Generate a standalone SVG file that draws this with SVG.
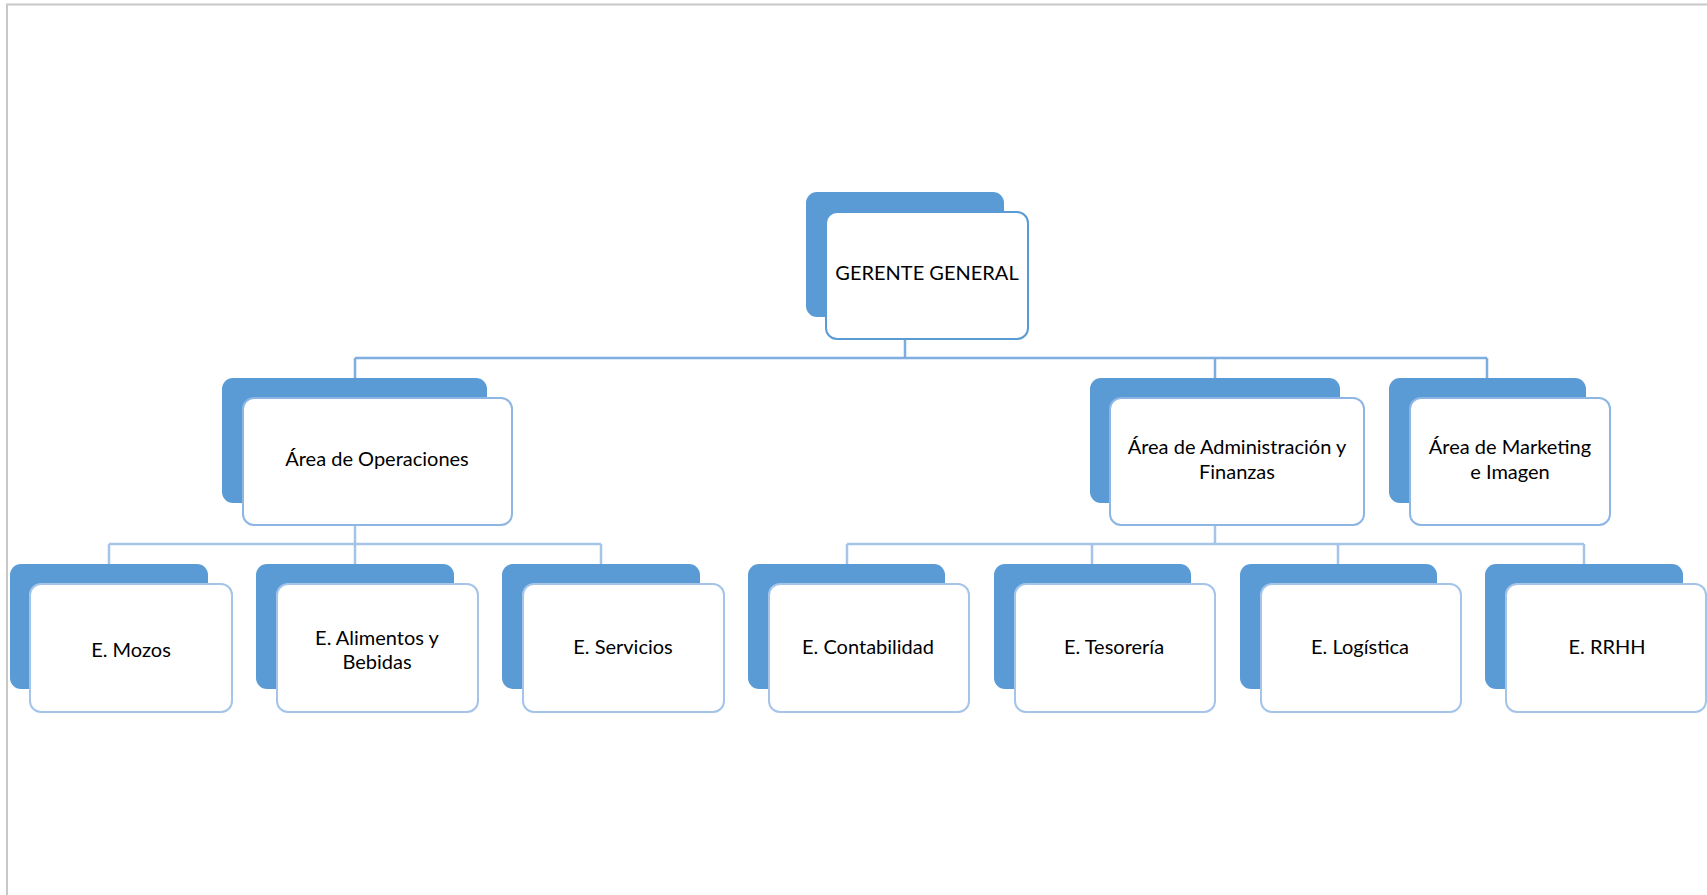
<svg xmlns="http://www.w3.org/2000/svg" width="1707" height="895" viewBox="0 0 1707 895">
<style>
.back{fill:#5b9bd5;}
.f1{fill:#fff;stroke:#5b9bd5;stroke-width:2;}
.f2{fill:#fff;stroke:#8db6e4;stroke-width:2;}
.f3{fill:#fff;stroke:#a4c4e9;stroke-width:2;}
.t{font-family:Lato,"Liberation Sans",Arial,sans-serif;font-size:20px;fill:#000;text-anchor:middle;}
.c1{fill:none;stroke:#7eaddf;stroke-width:2.5;}
.c2{fill:none;stroke:#a4c4e9;stroke-width:2.5;}
.frame{fill:none;stroke:#c8c8c8;stroke-width:2;}
</style>
<rect width="1707" height="895" fill="#fff"/>
<path class="frame" d="M7,895 V4.5 H1707"/>
<g id="connectors">
<path class="c1" d="M905,339 V358 M355,358 H1487 M355,358 V378 M1215,358 V378 M1487,358 V378"/>
<path class="c2" d="M355,525 V544 M109,544 H601 M109,544 V564 M355,544 V564 M601,544 V564"/>
<path class="c2" d="M1215,525 V544 M847,544 H1584 M847,544 V564 M1092,544 V564 M1338,544 V564 M1584,544 V564"/>
</g>
<g id="gerente">
<rect class="back" x="806" y="192" width="198" height="125" rx="11"/>
<rect class="f1" x="826" y="212" width="202" height="127" rx="11"/>
<text class="t" x="927" y="280">GERENTE GENERAL</text>
</g>
<g id="operaciones">
<rect class="back" x="222" y="378" width="265" height="125" rx="11"/>
<rect class="f2" x="243" y="398" width="269" height="127" rx="11"/>
<text class="t" x="377" y="466">Área de Operaciones</text>
</g>
<g id="administracion">
<rect class="back" x="1090" y="378" width="250" height="125" rx="11"/>
<rect class="f2" x="1110" y="398" width="254" height="127" rx="11"/>
<text class="t" x="1237" y="454">Área de Administración y</text>
<text class="t" x="1237" y="479">Finanzas</text>
</g>
<g id="marketing">
<rect class="back" x="1389" y="378" width="197" height="125" rx="11"/>
<rect class="f2" x="1410" y="398" width="200" height="127" rx="11"/>
<text class="t" x="1510" y="454">Área de Marketing</text>
<text class="t" x="1510" y="479">e Imagen</text>
</g>
<g id="mozos">
<rect class="back" x="10" y="564" width="198" height="125" rx="11"/>
<rect class="f3" x="30" y="584" width="202" height="128" rx="11"/>
<text class="t" x="131" y="657">E. Mozos</text>
</g>
<g id="alimentos">
<rect class="back" x="256" y="564" width="198" height="125" rx="11"/>
<rect class="f3" x="277" y="584" width="201" height="128" rx="11"/>
<text class="t" x="377" y="645">E. Alimentos y</text>
<text class="t" x="377" y="669">Bebidas</text>
</g>
<g id="servicios">
<rect class="back" x="502" y="564" width="198" height="125" rx="11"/>
<rect class="f3" x="523" y="584" width="201" height="128" rx="11"/>
<text class="t" x="623" y="654">E. Servicios</text>
</g>
<g id="contabilidad">
<rect class="back" x="748" y="564" width="197" height="125" rx="11"/>
<rect class="f3" x="769" y="584" width="200" height="128" rx="11"/>
<text class="t" x="868" y="654">E. Contabilidad</text>
</g>
<g id="tesoreria">
<rect class="back" x="994" y="564" width="197" height="125" rx="11"/>
<rect class="f3" x="1015" y="584" width="200" height="128" rx="11"/>
<text class="t" x="1114" y="654">E. Tesorería</text>
</g>
<g id="logistica">
<rect class="back" x="1240" y="564" width="197" height="125" rx="11"/>
<rect class="f3" x="1261" y="584" width="200" height="128" rx="11"/>
<text class="t" x="1360" y="654">E. Logística</text>
</g>
<g id="rrhh">
<rect class="back" x="1485" y="564" width="198" height="125" rx="11"/>
<rect class="f3" x="1506" y="584" width="200" height="128" rx="11"/>
<text class="t" x="1607" y="654">E. RRHH</text>
</g>
</svg>
